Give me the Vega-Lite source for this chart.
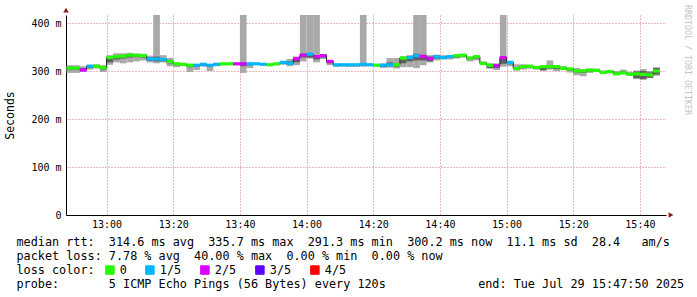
{
  "$schema": "https://vega.github.io/schema/vega-lite/v6.json",
  "width": 600,
  "height": 200,
  "autosize": "none",
  "padding": {"left": 66, "top": 15, "right": 31, "bottom": 82},
  "background": "white",
  "config": {"view": {"stroke": null}, "font": "DejaVu Sans Mono"},
  "title": {
    "text": "RRDTOOL / TOBI OETIKER", "orient": "right", "anchor": "start", "frame": "group",
    "font": "DejaVu Sans Mono", "fontSize": 8.3, "fontWeight": "normal", "color": "#c4c4c4", "offset": 0, "dx": -10
  },
  "datasets": {
    "ping": [
      {"t":"2025-07-29T12:48","t2":"2025-07-29T12:50","med":306,"loss":"0","lo1":296,"hi1":312,"lo2":302,"hi2":309},
      {"t":"2025-07-29T12:50","t2":"2025-07-29T12:52","med":306,"loss":"0","lo1":296,"hi1":312,"lo2":302,"hi2":308},
      {"t":"2025-07-29T12:52","t2":"2025-07-29T12:54","med":302,"loss":"2/5","lo1":298,"hi1":310,"lo2":300,"hi2":306},
      {"t":"2025-07-29T12:54","t2":"2025-07-29T12:56","med":310,"loss":"1/5","lo1":303,"hi1":313,"lo2":306,"hi2":311},
      {"t":"2025-07-29T12:56","t2":"2025-07-29T12:58","med":310,"loss":"0","lo1":305,"hi1":314,"lo2":308,"hi2":312},
      {"t":"2025-07-29T12:58","t2":"2025-07-29T13:00","med":307,"loss":"0","lo1":298,"hi1":312,"lo2":303,"hi2":309},
      {"t":"2025-07-29T13:00","t2":"2025-07-29T13:02","med":328,"loss":"0","lo1":313,"hi1":333,"lo2":318,"hi2":330},
      {"t":"2025-07-29T13:02","t2":"2025-07-29T13:04","med":330,"loss":"0","lo1":318,"hi1":337,"lo2":324,"hi2":332},
      {"t":"2025-07-29T13:04","t2":"2025-07-29T13:06","med":331,"loss":"0","lo1":316,"hi1":337,"lo2":326,"hi2":333},
      {"t":"2025-07-29T13:06","t2":"2025-07-29T13:08","med":333,"loss":"0","lo1":318,"hi1":338,"lo2":328,"hi2":335},
      {"t":"2025-07-29T13:08","t2":"2025-07-29T13:10","med":333,"loss":"0","lo1":320,"hi1":336,"lo2":329,"hi2":335},
      {"t":"2025-07-29T13:10","t2":"2025-07-29T13:12","med":332,"loss":"0","lo1":322,"hi1":336,"lo2":328,"hi2":334},
      {"t":"2025-07-29T13:12","t2":"2025-07-29T13:14","med":325,"loss":"1/5","lo1":318,"hi1":332,"lo2":321,"hi2":328},
      {"t":"2025-07-29T13:14","t2":"2025-07-29T13:16","med":325,"loss":"1/5","lo1":316,"hi1":420,"lo2":320,"hi2":330},
      {"t":"2025-07-29T13:16","t2":"2025-07-29T13:18","med":324,"loss":"1/5","lo1":318,"hi1":333,"lo2":320,"hi2":327},
      {"t":"2025-07-29T13:18","t2":"2025-07-29T13:20","med":320,"loss":"0","lo1":310,"hi1":327,"lo2":316,"hi2":323},
      {"t":"2025-07-29T13:20","t2":"2025-07-29T13:22","med":315,"loss":"0","lo1":308,"hi1":318,"lo2":312,"hi2":316},
      {"t":"2025-07-29T13:22","t2":"2025-07-29T13:24","med":314,"loss":"0","lo1":310,"hi1":316,"lo2":312,"hi2":315},
      {"t":"2025-07-29T13:24","t2":"2025-07-29T13:26","med":312,"loss":"0","lo1":298,"hi1":315,"lo2":308,"hi2":314},
      {"t":"2025-07-29T13:26","t2":"2025-07-29T13:28","med":312,"loss":"1/5","lo1":302,"hi1":314,"lo2":309,"hi2":313},
      {"t":"2025-07-29T13:28","t2":"2025-07-29T13:30","med":314,"loss":"1/5","lo1":309,"hi1":316,"lo2":311,"hi2":315},
      {"t":"2025-07-29T13:30","t2":"2025-07-29T13:32","med":312,"loss":"1/5","lo1":300,"hi1":314,"lo2":309,"hi2":313},
      {"t":"2025-07-29T13:32","t2":"2025-07-29T13:34","med":314,"loss":"1/5","lo1":310,"hi1":316,"lo2":312,"hi2":315},
      {"t":"2025-07-29T13:34","t2":"2025-07-29T13:36","med":315,"loss":"0","lo1":312,"hi1":317,"lo2":313,"hi2":316},
      {"t":"2025-07-29T13:36","t2":"2025-07-29T13:38","med":315,"loss":"0","lo1":313,"hi1":316,"lo2":314,"hi2":316},
      {"t":"2025-07-29T13:38","t2":"2025-07-29T13:40","med":315,"loss":"2/5","lo1":313,"hi1":316,"lo2":314,"hi2":316},
      {"t":"2025-07-29T13:40","t2":"2025-07-29T13:42","med":315,"loss":"2/5","lo1":296,"hi1":420,"lo2":310,"hi2":318},
      {"t":"2025-07-29T13:42","t2":"2025-07-29T13:44","med":315,"loss":"1/5","lo1":306,"hi1":317,"lo2":312,"hi2":316},
      {"t":"2025-07-29T13:44","t2":"2025-07-29T13:46","med":315,"loss":"1/5","lo1":313,"hi1":316,"lo2":314,"hi2":316},
      {"t":"2025-07-29T13:46","t2":"2025-07-29T13:48","med":314,"loss":"1/5","lo1":312,"hi1":316,"lo2":313,"hi2":315},
      {"t":"2025-07-29T13:48","t2":"2025-07-29T13:50","med":313,"loss":"0","lo1":311,"hi1":315,"lo2":312,"hi2":314},
      {"t":"2025-07-29T13:50","t2":"2025-07-29T13:52","med":315,"loss":"0","lo1":312,"hi1":317,"lo2":313,"hi2":316},
      {"t":"2025-07-29T13:52","t2":"2025-07-29T13:54","med":318,"loss":"1/5","lo1":313,"hi1":321,"lo2":315,"hi2":319},
      {"t":"2025-07-29T13:54","t2":"2025-07-29T13:56","med":316,"loss":"1/5","lo1":310,"hi1":325,"lo2":313,"hi2":320},
      {"t":"2025-07-29T13:56","t2":"2025-07-29T13:58","med":326,"loss":"2/5","lo1":312,"hi1":330,"lo2":318,"hi2":328},
      {"t":"2025-07-29T13:58","t2":"2025-07-29T14:00","med":333,"loss":"2/5","lo1":320,"hi1":420,"lo2":328,"hi2":336},
      {"t":"2025-07-29T14:00","t2":"2025-07-29T14:02","med":335,"loss":"1/5","lo1":326,"hi1":420,"lo2":328,"hi2":336},
      {"t":"2025-07-29T14:02","t2":"2025-07-29T14:04","med":330,"loss":"2/5","lo1":318,"hi1":420,"lo2":324,"hi2":333},
      {"t":"2025-07-29T14:04","t2":"2025-07-29T14:06","med":332,"loss":"2/5","lo1":325,"hi1":335,"lo2":328,"hi2":334},
      {"t":"2025-07-29T14:06","t2":"2025-07-29T14:08","med":320,"loss":"2/5","lo1":312,"hi1":323,"lo2":316,"hi2":322},
      {"t":"2025-07-29T14:08","t2":"2025-07-29T14:10","med":313,"loss":"1/5","lo1":309,"hi1":315,"lo2":310,"hi2":314},
      {"t":"2025-07-29T14:10","t2":"2025-07-29T14:12","med":313,"loss":"1/5","lo1":309,"hi1":315,"lo2":311,"hi2":314},
      {"t":"2025-07-29T14:12","t2":"2025-07-29T14:14","med":313,"loss":"1/5","lo1":309,"hi1":315,"lo2":310,"hi2":314},
      {"t":"2025-07-29T14:14","t2":"2025-07-29T14:16","med":313,"loss":"1/5","lo1":309,"hi1":315,"lo2":310,"hi2":314},
      {"t":"2025-07-29T14:16","t2":"2025-07-29T14:18","med":314,"loss":"1/5","lo1":309,"hi1":420,"lo2":311,"hi2":316},
      {"t":"2025-07-29T14:18","t2":"2025-07-29T14:20","med":313,"loss":"1/5","lo1":310,"hi1":315,"lo2":311,"hi2":314},
      {"t":"2025-07-29T14:20","t2":"2025-07-29T14:22","med":312,"loss":"0","lo1":309,"hi1":315,"lo2":311,"hi2":314},
      {"t":"2025-07-29T14:22","t2":"2025-07-29T14:24","med":312,"loss":"1/5","lo1":306,"hi1":316,"lo2":309,"hi2":313},
      {"t":"2025-07-29T14:24","t2":"2025-07-29T14:26","med":313,"loss":"1/5","lo1":307,"hi1":327,"lo2":310,"hi2":318},
      {"t":"2025-07-29T14:26","t2":"2025-07-29T14:28","med":313,"loss":"0","lo1":305,"hi1":327,"lo2":309,"hi2":316},
      {"t":"2025-07-29T14:28","t2":"2025-07-29T14:30","med":327,"loss":"0","lo1":308,"hi1":331,"lo2":316,"hi2":329},
      {"t":"2025-07-29T14:30","t2":"2025-07-29T14:32","med":328,"loss":"1/5","lo1":308,"hi1":333,"lo2":320,"hi2":331},
      {"t":"2025-07-29T14:32","t2":"2025-07-29T14:34","med":332,"loss":"1/5","lo1":306,"hi1":420,"lo2":322,"hi2":336},
      {"t":"2025-07-29T14:34","t2":"2025-07-29T14:36","med":330,"loss":"2/5","lo1":312,"hi1":420,"lo2":322,"hi2":334},
      {"t":"2025-07-29T14:36","t2":"2025-07-29T14:38","med":326,"loss":"2/5","lo1":318,"hi1":333,"lo2":320,"hi2":330},
      {"t":"2025-07-29T14:38","t2":"2025-07-29T14:40","med":330,"loss":"1/5","lo1":322,"hi1":334,"lo2":326,"hi2":332},
      {"t":"2025-07-29T14:40","t2":"2025-07-29T14:42","med":328,"loss":"1/5","lo1":324,"hi1":333,"lo2":326,"hi2":331},
      {"t":"2025-07-29T14:42","t2":"2025-07-29T14:44","med":330,"loss":"1/5","lo1":324,"hi1":333,"lo2":327,"hi2":332},
      {"t":"2025-07-29T14:44","t2":"2025-07-29T14:46","med":332,"loss":"0","lo1":326,"hi1":334,"lo2":328,"hi2":333},
      {"t":"2025-07-29T14:46","t2":"2025-07-29T14:48","med":333,"loss":"0","lo1":328,"hi1":335,"lo2":330,"hi2":334},
      {"t":"2025-07-29T14:48","t2":"2025-07-29T14:50","med":327,"loss":"0","lo1":320,"hi1":330,"lo2":324,"hi2":329},
      {"t":"2025-07-29T14:50","t2":"2025-07-29T14:52","med":330,"loss":"0","lo1":322,"hi1":332,"lo2":326,"hi2":331},
      {"t":"2025-07-29T14:52","t2":"2025-07-29T14:54","med":316,"loss":"0","lo1":312,"hi1":320,"lo2":314,"hi2":318},
      {"t":"2025-07-29T14:54","t2":"2025-07-29T14:56","med":312,"loss":"0","lo1":305,"hi1":316,"lo2":306,"hi2":313},
      {"t":"2025-07-29T14:56","t2":"2025-07-29T14:58","med":311,"loss":"2/5","lo1":302,"hi1":316,"lo2":306,"hi2":313},
      {"t":"2025-07-29T14:58","t2":"2025-07-29T15:00","med":328,"loss":"2/5","lo1":309,"hi1":420,"lo2":315,"hi2":330},
      {"t":"2025-07-29T15:00","t2":"2025-07-29T15:02","med":318,"loss":"1/5","lo1":310,"hi1":320,"lo2":314,"hi2":319},
      {"t":"2025-07-29T15:02","t2":"2025-07-29T15:04","med":305,"loss":"0","lo1":301,"hi1":314,"lo2":303,"hi2":308},
      {"t":"2025-07-29T15:04","t2":"2025-07-29T15:06","med":309,"loss":"0","lo1":303,"hi1":314,"lo2":306,"hi2":311},
      {"t":"2025-07-29T15:06","t2":"2025-07-29T15:08","med":310,"loss":"0","lo1":305,"hi1":313,"lo2":307,"hi2":311},
      {"t":"2025-07-29T15:08","t2":"2025-07-29T15:10","med":307,"loss":"0","lo1":303,"hi1":311,"lo2":305,"hi2":309},
      {"t":"2025-07-29T15:10","t2":"2025-07-29T15:12","med":309,"loss":"0","lo1":300,"hi1":312,"lo2":302,"hi2":310},
      {"t":"2025-07-29T15:12","t2":"2025-07-29T15:14","med":309,"loss":"0","lo1":303,"hi1":322,"lo2":305,"hi2":312},
      {"t":"2025-07-29T15:14","t2":"2025-07-29T15:16","med":309,"loss":"0","lo1":300,"hi1":312,"lo2":304,"hi2":310},
      {"t":"2025-07-29T15:16","t2":"2025-07-29T15:18","med":306,"loss":"0","lo1":302,"hi1":310,"lo2":304,"hi2":308},
      {"t":"2025-07-29T15:18","t2":"2025-07-29T15:20","med":304,"loss":"0","lo1":297,"hi1":307,"lo2":301,"hi2":306},
      {"t":"2025-07-29T15:20","t2":"2025-07-29T15:22","med":300,"loss":"0","lo1":291,"hi1":306,"lo2":297,"hi2":302},
      {"t":"2025-07-29T15:22","t2":"2025-07-29T15:24","med":300,"loss":"0","lo1":289,"hi1":304,"lo2":296,"hi2":302},
      {"t":"2025-07-29T15:24","t2":"2025-07-29T15:26","med":302,"loss":"0","lo1":296,"hi1":305,"lo2":299,"hi2":303},
      {"t":"2025-07-29T15:26","t2":"2025-07-29T15:28","med":301,"loss":"0","lo1":298,"hi1":305,"lo2":299,"hi2":302},
      {"t":"2025-07-29T15:28","t2":"2025-07-29T15:30","med":297,"loss":"0","lo1":294,"hi1":301,"lo2":296,"hi2":299},
      {"t":"2025-07-29T15:30","t2":"2025-07-29T15:32","med":299,"loss":"0","lo1":295,"hi1":302,"lo2":297,"hi2":301},
      {"t":"2025-07-29T15:32","t2":"2025-07-29T15:34","med":294,"loss":"0","lo1":292,"hi1":300,"lo2":293,"hi2":297},
      {"t":"2025-07-29T15:34","t2":"2025-07-29T15:36","med":296,"loss":"0","lo1":294,"hi1":303,"lo2":295,"hi2":299},
      {"t":"2025-07-29T15:36","t2":"2025-07-29T15:38","med":293,"loss":"0","lo1":291,"hi1":298,"lo2":292,"hi2":296},
      {"t":"2025-07-29T15:38","t2":"2025-07-29T15:40","med":294,"loss":"0","lo1":283,"hi1":301,"lo2":285,"hi2":299},
      {"t":"2025-07-29T15:40","t2":"2025-07-29T15:42","med":293,"loss":"0","lo1":282,"hi1":304,"lo2":283,"hi2":300},
      {"t":"2025-07-29T15:42","t2":"2025-07-29T15:44","med":292,"loss":"0","lo1":285,"hi1":300,"lo2":286,"hi2":297},
      {"t":"2025-07-29T15:44","t2":"2025-07-29T15:46","med":300,"loss":"0","lo1":290,"hi1":308,"lo2":293,"hi2":306}
    ]
  },
  "layer": [
    {
      "data": {"name": "ping"},
      "mark": {"type": "rect", "color": "#a9a9a9", "clip": true},
      "encoding": {
        "x": {
          "field": "t", "type": "temporal",
          "scale": {"domain": [
            {"year": 2025, "month": 7, "date": 29, "hours": 12, "minutes": 47, "seconds": 50},
            {"year": 2025, "month": 7, "date": 29, "hours": 15, "minutes": 47, "seconds": 50}
          ]},
          "axis": {
            "title": [
              "median\u00a0rtt:\u00a0\u00a0314.6\u00a0ms\u00a0avg\u00a0\u00a0335.7\u00a0ms\u00a0max\u00a0\u00a0291.3\u00a0ms\u00a0min\u00a0\u00a0300.2\u00a0ms\u00a0now\u00a0\u00a011.1\u00a0ms\u00a0sd\u00a0\u00a028.4\u00a0\u00a0\u00a0am/s",
              "packet\u00a0loss:\u00a07.78\u00a0%\u00a0avg\u00a0\u00a040.00\u00a0%\u00a0max\u00a0\u00a00.00\u00a0%\u00a0min\u00a0\u00a00.00\u00a0%\u00a0now",
              "loss\u00a0color:",
              "probe:\u00a0\u00a0\u00a0\u00a0\u00a0\u00a0\u00a05\u00a0ICMP\u00a0Echo\u00a0Pings\u00a0(56\u00a0Bytes)\u00a0every\u00a0120s\u00a0\u00a0\u00a0\u00a0\u00a0\u00a0\u00a0\u00a0\u00a0\u00a0\u00a0\u00a0\u00a0end:\u00a0Tue\u00a0Jul\u00a029\u00a015:47:50\u00a02025"
            ],
            "titleX": -50, "titleY": 21, "titleAlign": "left", "titleBaseline": "top",
            "titleFont": "DejaVu Sans Mono", "titleFontSize": 11.8, "titleFontWeight": "normal",
            "titleColor": "#000000", "titleLineHeight": 14.3,
            "values": [
              {"year": 2025, "month": 7, "date": 29, "hours": 13, "minutes": 0},
              {"year": 2025, "month": 7, "date": 29, "hours": 13, "minutes": 20},
              {"year": 2025, "month": 7, "date": 29, "hours": 13, "minutes": 40},
              {"year": 2025, "month": 7, "date": 29, "hours": 14, "minutes": 0},
              {"year": 2025, "month": 7, "date": 29, "hours": 14, "minutes": 20},
              {"year": 2025, "month": 7, "date": 29, "hours": 14, "minutes": 40},
              {"year": 2025, "month": 7, "date": 29, "hours": 15, "minutes": 0},
              {"year": 2025, "month": 7, "date": 29, "hours": 15, "minutes": 20},
              {"year": 2025, "month": 7, "date": 29, "hours": 15, "minutes": 40}
            ],
            "format": "%H:%M",
            "labelOverlap": false, "labelFlush": false,
            "labelFont": "DejaVu Sans Mono", "labelFontSize": 10, "labelColor": "#000000", "labelPadding": 4,
            "ticks": false,
            "domainColor": "#000000", "domainWidth": 1,
            "grid": true, "gridDash": [1, 2], "gridWidth": 1, "gridColor": "#d97070"
          }
        },
        "x2": {"field": "t2"},
        "y": {
          "field": "lo1", "type": "quantitative",
          "scale": {"domain": [0, 416.67], "nice": false, "zero": false},
          "axis": {
            "title": "Seconds", "titleFont": "DejaVu Sans Mono", "titleFontSize": 11.5, "titleFontWeight": "normal",
            "titleColor": "#000000", "titleX": -56, "titleY": 100, "titleAlign": "center", "titleBaseline": "middle", "titleAngle": 270,
            "values": [0, 100, 200, 300, 400],
            "labelExpr": "datum.value === 0 ? '0' : datum.value + ' m'",
            "labelOverlap": false,
            "labelFont": "DejaVu Sans Mono", "labelFontSize": 10, "labelColor": "#000000", "labelPadding": 5,
            "ticks": false, "domainColor": "#000000", "domainWidth": 1,
            "grid": true, "gridDash": [1, 2], "gridWidth": 1, "gridColor": "#d97070"
          }
        },
        "y2": {"field": "hi1"}
      }
    },
    {
      "data": {"name": "ping"},
      "mark": {"type": "rect", "color": "#5e5e5e", "clip": true},
      "encoding": {
        "x": {"field": "t", "type": "temporal"},
        "x2": {"field": "t2"},
        "y": {"field": "lo2", "type": "quantitative"},
        "y2": {"field": "hi2"}
      }
    },
    {
      "data": {"name": "ping"},
      "mark": {"type": "line", "color": "#202020", "strokeWidth": 1, "interpolate": "step-after", "clip": true},
      "encoding": {
        "x": {"field": "t", "type": "temporal"},
        "y": {"field": "med", "type": "quantitative"}
      }
    },
    {
      "data": {"name": "ping"},
      "mark": {"type": "rule", "strokeWidth": 3.2, "strokeCap": "butt", "clip": true},
      "encoding": {
        "x": {"field": "t", "type": "temporal"},
        "x2": {"field": "t2"},
        "y": {"field": "med", "type": "quantitative"},
        "color": {
          "field": "loss", "type": "nominal",
          "scale": {"domain": ["0", "1/5", "2/5", "3/5", "4/5"], "range": ["#26ff00", "#00b8ff", "#d800ff", "#5e00ff", "#ff0000"]},
          "legend": {
            "orient": "none", "legendX": 38, "legendY": 249, "direction": "horizontal", "title": null,
            "symbolType": "square", "symbolSize": 72, "symbolStrokeColor": "#000000", "symbolStrokeWidth": 1,
            "labelFont": "DejaVu Sans Mono", "labelFontSize": 11.8, "labelColor": "#000000",
            "labelOffset": 4, "columnPadding": 16, "padding": 0,
            "encode": {"symbols": {"update": {
              "fill": {"scale": "color", "field": "value"},
              "fillOpacity": {"value": 1},
              "stroke": {"value": "#000000"}
            }}}
          }
        }
      }
    },
    {
      "data": {"values": [{}]},
      "mark": {"type": "point", "shape": "triangle-up", "filled": true, "color": "#8b1d1d", "size": 30, "opacity": 1, "clip": false},
      "encoding": {
        "x": {"datum": {"year": 2025, "month": 7, "date": 29, "hours": 12, "minutes": 47, "seconds": 50}, "type": "temporal"},
        "y": {"datum": 427, "type": "quantitative"}
      }
    },
    {
      "data": {"values": [{}]},
      "mark": {"type": "point", "shape": "triangle-right", "filled": true, "color": "#8b1d1d", "size": 30, "opacity": 1, "clip": false},
      "encoding": {
        "x": {"datum": {"year": 2025, "month": 7, "date": 29, "hours": 15, "minutes": 49, "seconds": 20}, "type": "temporal"},
        "y": {"datum": 0, "type": "quantitative"}
      }
    }
  ]
}
